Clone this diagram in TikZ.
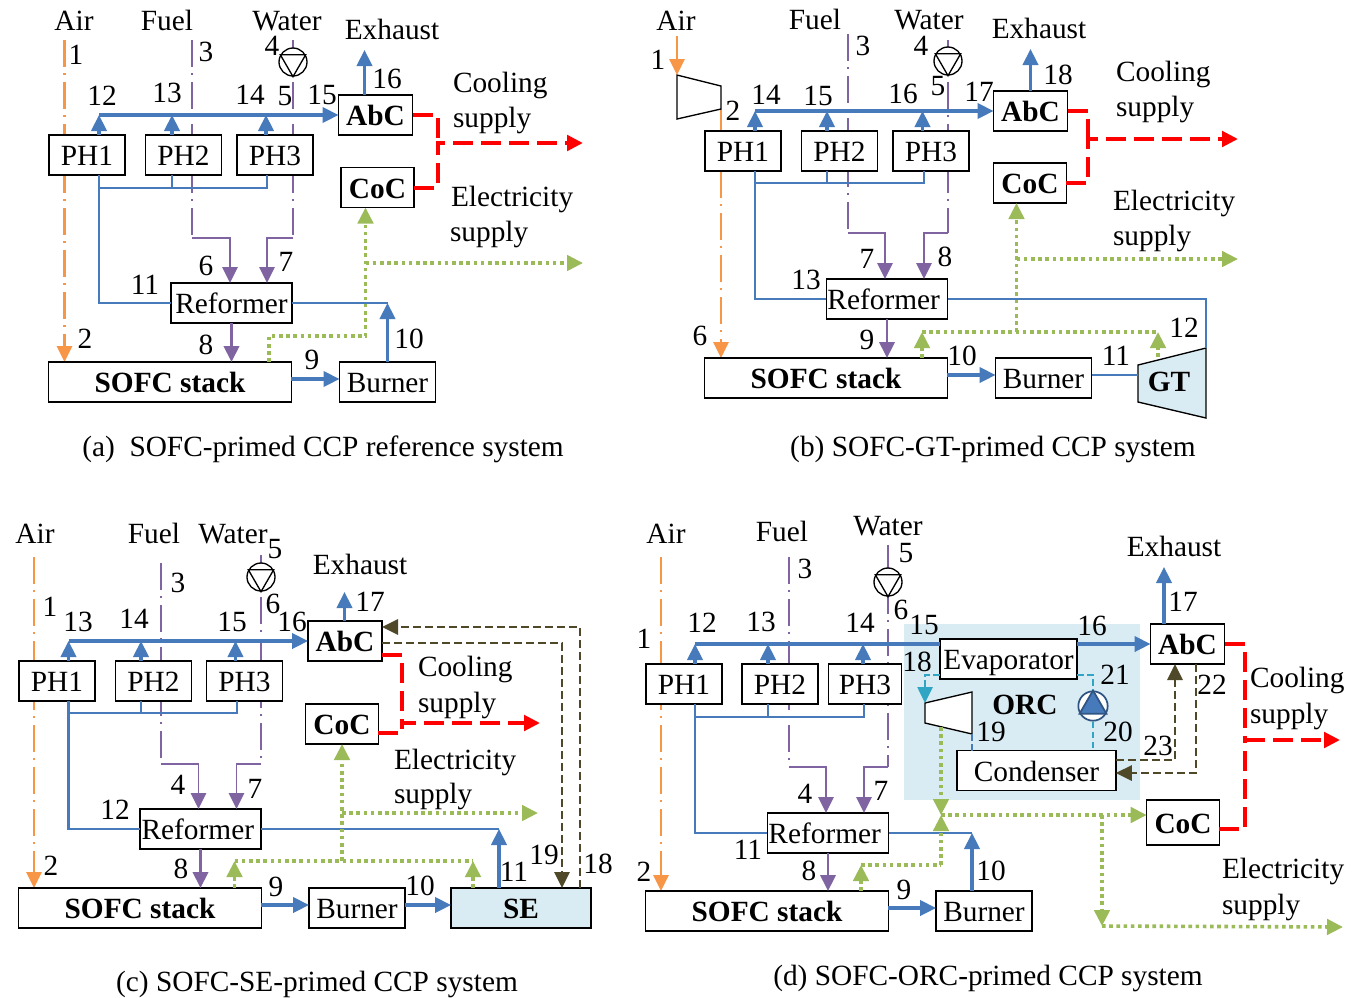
\documentclass[tikz,border=0pt]{standalone}
\usepackage{fontspec}
\setmainfont{Liberation Serif}
\usetikzlibrary{arrows.meta,backgrounds}
\definecolor{airc}{RGB}{247,150,70}
\definecolor{fuelc}{RGB}{128,100,162}
\definecolor{heatc}{RGB}{70,122,187}
\definecolor{elecc}{RGB}{155,187,89}
\definecolor{dumpc}{RGB}{79,73,41}
\definecolor{orcc}{RGB}{49,166,196}
\definecolor{shadec}{RGB}{218,236,243}
\tikzset{
plain/.style={font=\fontsize{22}{26}\selectfont},
bold/.style={font=\fontsize{22}{26}\selectfont\bfseries},
box/.style={draw, line width=1.1pt, fill=white, inner sep=0pt, outer sep=0pt, minimum height=30pt, text height=16pt, text depth=0pt},
phbox/.style={box, minimum width=57pt},
refbox/.style={box, minimum width=91pt},
sofcbox/.style={box, minimum width=182pt, bold},
burnbox/.style={box, minimum width=72pt},
abcbox/.style={box, minimum width=55.5pt, bold},
cocbox/.style={box, minimum width=54.5pt, bold},
txt/.style={inner sep=0pt, outer sep=0pt, text height=15.5pt, text depth=1pt},
ltxt/.style={txt, anchor=west},
pump/.style={draw, circle, line width=1pt, fill=white, inner sep=0pt, minimum size=21pt},
machine/.style={draw, line width=1pt},
tip/.style={-{Triangle[length=12pt,width=11.5pt]}},
airline/.style={color=airc, line width=1.7pt, dash pattern=on 20pt off 5pt on 1.5pt off 5pt},
airsolid/.style={color=airc, line width=1.7pt},
fuelline/.style={color=fuelc, line width=1.3pt, dash pattern=on 20pt off 5pt on 1.5pt off 5pt},
fuelsolid/.style={color=fuelc, line width=1.4pt},
heatline/.style={color=heatc, line width=1.5pt},
heatmain/.style={color=heatc, line width=2.3pt},
redline/.style={color=red, line width=3pt, dash pattern=on 15pt off 6pt},
elecline/.style={color=elecc, line width=2.7pt, dash pattern=on 2.7pt off 2.7pt},
dumpline/.style={color=dumpc, line width=1.4pt, dash pattern=on 6pt off 3pt},
orcline/.style={color=orcc, line width=1.1pt, dash pattern=on 5pt off 2.5pt},
}
\begin{document}
\begin{tikzpicture}[x=0.75pt, y=-0.75pt, plain]
\useasboundingbox (0,0) rectangle (1362,997);

% PANEL A
\node[phbox] (aph1) at (87,155) {PH1};
\node[phbox] (aph2) at (183.5,155) {PH2};
\node[phbox] (aph3) at (275,155) {PH3};
\node[abcbox] (aabc) at (375.5,115) {AbC};
\node[cocbox] (acoc) at (377.5,187.5) {CoC};
\node[refbox] (aref) at (231.5,303) {Reformer};
\node[sofcbox] (asofc) at (170,382) {SOFC stack};
\node[burnbox] (aburn) at (387.5,382) {Burner};
\node[pump] (apump) at (293,62) {};
\draw[machine] (apump.south) -- (apump.150) -- (apump.30) -- cycle;

\node[txt] (aair) at (74,21) {Air};
\node[txt] (afuel) at (167,21) {Fuel};
\node[txt] (awater) at (287,21) {Water};
\node[txt] (aexhaust) at (392,30) {Exhaust};
\node[ltxt] (acool) at (453,83) {Cooling};
\node[ltxt] (acools) at (453,118) {supply};
\node[ltxt] (aelec) at (451,197) {Electricity};
\node[ltxt] (aelecs) at (450,232) {supply};
\node[txt] (acap) at (323,447) {(a)\ \ SOFC-primed CCP reference system};

\node[txt] (an1) at (76,55) {1};
\node[txt] (an2) at (85,339) {2};
\node[txt] (an3) at (206,52) {3};
\node[txt] (an4) at (272,46) {4};
\node[txt] (an5) at (285,96) {5};
\node[txt] (an6) at (206,266) {6};
\node[txt] (an7) at (286,262) {7};
\node[txt] (an8) at (206,345) {8};
\node[txt] (an9) at (312,360) {9};
\node[txt] (an10) at (409,339) {10};
\node[txt] (an11) at (145,285) {11};
\node[txt] (an12) at (102,96) {12};
\node[txt] (an13) at (167,93) {13};
\node[txt] (an14) at (250,95) {14};
\node[txt] (an15) at (322,95) {15};
\node[txt] (an16) at (387,79) {16};

\coordinate (aairin) at (64.5,40);
\coordinate (afuelin) at (192,40);
\coordinate (afuelb) at (192,238);
\coordinate (afuelt) at (230,238);
\coordinate (awaterin) at (293,40);
\coordinate (awaterb) at (293,238);
\coordinate (awatert) at (267,238);
\begin{scope}[on background layer]
\draw[airline, tip] (aairin) -- (aairin |- asofc.north);
\draw[fuelline] (afuelin) -- (afuelb);
\draw[fuelline] (awaterin) -- (awaterb);
\end{scope}
\draw[fuelsolid, tip] (afuelb) -- (afuelt) -- (afuelt |- aref.north);
\draw[fuelsolid, tip] (awaterb) -- (awatert) -- (awatert |- aref.north);
\draw[fuelsolid, line width=2pt, tip] (aref.south) -- (aref.south |- asofc.north);

\coordinate (am1) at (99,115);
\coordinate (am2) at (172,115);
\coordinate (am3) at (266,115);
\coordinate (aexh) at (364.5,50);
\coordinate (al1) at (99,188);
\coordinate (al2) at (172,188);
\coordinate (al3) at (267,188);
\coordinate (arefr) at (aburn.north |- aref.east);
\draw[heatmain, tip] (am1) -- (aabc.west);
\draw[heatmain, tip] (am1 |- aph1.north) -- (am1);
\draw[heatmain, tip] (am2 |- aph2.north) -- (am2);
\draw[heatmain, tip] (am3 |- aph3.north) -- (am3);
\draw[heatmain, tip] (aexh |- aabc.north) -- (aexh);
\draw[heatline, line width=1.8pt] (al1 |- aph1.south) -- (al1 |- aref.west) -- (aref.west);
\draw[heatline] (al2 |- aph2.south) -- (al2);
\draw[heatline] (al1) -- (al3) -- (al3 |- aph3.south);
\draw[heatline] (aref.east) -- (arefr);
\draw[heatmain, tip] (aburn.north) -- (arefr);
\draw[heatmain, tip] ([yshift=2.25pt]asofc.east) -- ([yshift=2.25pt]aburn.west);

\coordinate (ared) at (437.5,143);
\coordinate (aredend) at (583,143);
\draw[redline] (aabc.east) -| (ared);
\draw[redline, tip] (acoc.east) -| (ared) -- (aredend);

\coordinate (ag1) at (269,336);
\coordinate (ag2) at (365.5,336);
\coordinate (ag3) at (365.5,263);
\coordinate (agend) at (583,263);
\draw[elecline, tip] (ag1 |- asofc.north) -- (ag1) -- (ag2) -- (ag2 |- acoc.south);
\draw[elecline, tip] (ag3) -- (agend);

% PANEL B
\node[phbox] (bph1) at (743,151) {PH1};
\node[phbox] (bph2) at (839.5,151) {PH2};
\node[phbox] (bph3) at (931,151) {PH3};
\node[abcbox] (babc) at (1030.5,111) {AbC};
\node[cocbox] (bcoc) at (1030,183) {CoC};
\node[refbox] (bref) at (887,299) {Reformer\kern5pt};
\node[sofcbox] (bsofc) at (826,378) {SOFC stack};
\node[burnbox] (bburn) at (1043.5,378) {Burner};
\node[pump] (bpump) at (948,61) {};
\draw[machine] (bpump.south) -- (bpump.150) -- (bpump.30) -- cycle;

\coordinate (bcomp1) at (677,75);
\coordinate (bcomp2) at (721,86);
\coordinate (bcomp3) at (721,109);
\coordinate (bcomp4) at (677,119);
\draw[machine] (bcomp1) -- (bcomp2) -- (bcomp3) -- (bcomp4) -- cycle;
\coordinate (bgt1) at (1138,365);
\coordinate (bgt2) at (1206,348);
\coordinate (bgt3) at (1206,418);
\coordinate (bgt4) at (1138,402);
\draw[machine, fill=shadec] (bgt1) -- (bgt2) -- (bgt3) -- (bgt4) -- cycle;
\node[txt, bold] (bgt) at (1169,382) {GT};

\node[txt] (bair) at (676,21) {Air};
\node[txt] (bfuel) at (815,20) {Fuel};
\node[txt] (bwater) at (929,20) {Water};
\node[txt] (bexhaust) at (1039,29) {Exhaust};
\node[ltxt] (bcool) at (1116,72) {Cooling};
\node[ltxt] (bcools) at (1116,107) {supply};
\node[ltxt] (belec) at (1113,201) {Electricity};
\node[ltxt] (belecs) at (1113,236) {supply};
\node[txt] (bcap) at (993,447) {(b) SOFC-GT-primed CCP system};

\node[txt] (bn1) at (658,60) {1};
\node[txt] (bn2) at (733,111) {2};
\node[txt] (bn3) at (863,46) {3};
\node[txt] (bn4) at (921,46) {4};
\node[txt] (bn5) at (938,86) {5};
\node[txt] (bn6) at (700,336) {6};
\node[txt] (bn7) at (867,259) {7};
\node[txt] (bn8) at (945,257) {8};
\node[txt] (bn9) at (867,340) {9};
\node[txt] (bn10) at (962,356) {10};
\node[txt] (bn11) at (1116,356) {11};
\node[txt] (bn12) at (1184,328) {12};
\node[txt] (bn13) at (806,280) {13};
\node[txt] (bn14) at (766,95) {14};
\node[txt] (bn15) at (818,96) {15};
\node[txt] (bn16) at (903,94) {16};
\node[txt] (bn17) at (979,92) {17};
\node[txt] (bn18) at (1058,75) {18};

\coordinate (bairin) at (677,36);
\coordinate (bfuelin) at (848,34);
\coordinate (bfuelb) at (848,233);
\coordinate (bfuelt) at (885,233);
\coordinate (bwaterin) at (948,40);
\coordinate (bwaterb) at (948,233);
\coordinate (bwatert) at (924,233);
\begin{scope}[on background layer]
\draw[airsolid] (bcomp3) -- (bcomp3 |- bph1.north);
\draw[airline, tip] (bcomp3 |- bph1.south) -- (bcomp3 |- bsofc.north);
\draw[fuelline] (bfuelin) -- (bfuelb);
\draw[fuelline] (bwaterin) -- (bwaterb);
\end{scope}
\draw[airsolid, tip] (bairin) -- (bcomp1);
\draw[fuelsolid, tip] (bfuelb) -- (bfuelt) -- (bfuelt |- bref.north);
\draw[fuelsolid, tip] (bwaterb) -- (bwatert) -- (bwatert |- bref.north);
\draw[fuelsolid, line width=2pt, tip] (bref.south) -- (bref.south |- bsofc.north);

\coordinate (bm1) at (755,111);
\coordinate (bm2) at (827,111);
\coordinate (bm3) at (922.5,111);
\coordinate (bexh) at (1030.5,49);
\coordinate (bl1) at (755,183);
\coordinate (bl2) at (827,183);
\coordinate (bl3) at (924,183);
\coordinate (bgtin) at (1138,375);
\draw[heatmain, tip] (bm1) -- (babc.west);
\draw[heatmain, tip] (bm1 |- bph1.north) -- (bm1);
\draw[heatmain, tip] (bm2 |- bph2.north) -- (bm2);
\draw[heatmain, tip] (bm3 |- bph3.north) -- (bm3);
\draw[heatmain, tip] (bexh |- babc.north) -- (bexh);
\draw[heatline, line width=1.8pt] (bl1 |- bph1.south) -- (bl1 |- bref.west) -- (bref.west);
\draw[heatline] (bl2 |- bph2.south) -- (bl2);
\draw[heatline] (bl1) -- (bl3) -- (bl3 |- bph3.south);
\draw[heatline] (bref.east) -- (bgt2 |- bref.east) -- (bgt2);
\draw[heatmain, tip] ([yshift=2.25pt]bsofc.east) -- ([yshift=2.25pt]bburn.west);
\draw[heatline] ([yshift=2.25pt]bburn.east) -- (bgtin);

\coordinate (bred) at (1088,139);
\coordinate (bredend) at (1238,139);
\draw[redline] (babc.east) -| (bred);
\draw[redline, tip] (bcoc.east) -| (bred) -- (bredend);

\coordinate (bg1) at (922,332);
\coordinate (bg2) at (1158,332);
\coordinate (bg3) at (1016.5,332);
\coordinate (bg4) at (1016.5,259);
\coordinate (bgend) at (1238,259);
\coordinate (bggt) at (1158,357);
\draw[elecline] (bg1) -- (bg2);
\draw[elecline, tip] (bg1 |- bsofc.north) -- (bg1);
\draw[elecline, tip] (bggt) -- (bg2);
\draw[elecline, tip] (bg3) -- (bg3 |- bcoc.south);
\draw[elecline, tip] (bg4) -- (bgend);

% PANEL C
\node[phbox] (cph1) at (57,681) {PH1};
\node[phbox] (cph2) at (153.5,681) {PH2};
\node[phbox] (cph3) at (244.5,681) {PH3};
\node[abcbox] (cabc) at (345,641) {AbC};
\node[cocbox] (ccoc) at (342,724) {CoC};
\node[refbox] (cref) at (200.5,829) {Reformer\kern4pt};
\node[sofcbox] (csofc) at (140,908) {SOFC stack};
\node[burnbox] (cburn) at (357,908) {Burner};
\node[box, fill=shadec, minimum width=105pt, bold] (cse) at (521,908) {SE};
\node[pump] (cpump) at (261,577) {};
\draw[machine] (cpump.south) -- (cpump.150) -- (cpump.30) -- cycle;

\node[txt] (cair) at (35,534) {Air};
\node[txt] (cfuel) at (154,534) {Fuel};
\node[txt] (cwater) at (233,534) {Water};
\node[txt] (cexhaust) at (360,565) {Exhaust};
\node[ltxt] (ccool) at (418,667) {Cooling};
\node[ltxt] (ccools) at (418,703) {supply};
\node[ltxt] (celec) at (394,760) {Electricity};
\node[ltxt] (celecs) at (394,794) {supply};
\node[txt] (ccap) at (317,982) {(c) SOFC-SE-primed CCP system};

\node[txt] (cn1) at (50,607) {1};
\node[txt] (cn2) at (51,866) {2};
\node[txt] (cn3) at (178,583) {3};
\node[txt] (cn4) at (178,785) {4};
\node[txt] (cn5) at (275,549) {5};
\node[txt] (cn6) at (273,604) {6};
\node[txt] (cn7) at (255,789) {7};
\node[txt] (cn8) at (181,869) {8};
\node[txt] (cn9) at (276,887) {9};
\node[txt] (cn10) at (420,886) {10};
\node[txt] (cn11) at (514,872) {11};
\node[txt] (cn12) at (115,810) {12};
\node[txt] (cn13) at (78,622) {13};
\node[txt] (cn14) at (134,619) {14};
\node[txt] (cn15) at (232,622) {15};
\node[txt] (cn16) at (292,622) {16};
\node[txt] (cn17) at (370,602) {17};
\node[txt] (cn18) at (598,864) {18};
\node[txt] (cn19) at (544,855) {19};

\coordinate (cairin) at (34,557);
\coordinate (cfuelin) at (161,563);
\coordinate (cfuelb) at (161,764);
\coordinate (cfuelt) at (198.5,764);
\coordinate (cwaterin) at (261,555);
\coordinate (cwaterb) at (261,764);
\coordinate (cwatert) at (236.5,764);
\begin{scope}[on background layer]
\draw[airline, tip] (cairin) -- (cairin |- csofc.north);
\draw[fuelline] (cfuelin) -- (cfuelb);
\draw[fuelline] (cwaterin) -- (cwaterb);
\end{scope}
\draw[fuelsolid, tip] (cfuelb) -- (cfuelt) -- (cfuelt |- cref.north);
\draw[fuelsolid, tip] (cwaterb) -- (cwatert) -- (cwatert |- cref.north);
\draw[fuelsolid, line width=2pt, tip] (cref.south) -- (cref.south |- csofc.north);

\coordinate (cm1) at (68.5,641);
\coordinate (cm2) at (141,641);
\coordinate (cm3) at (235.5,641);
\coordinate (cexh) at (344.5,592);
\coordinate (cl1) at (68.5,713);
\coordinate (cl2) at (141,713);
\coordinate (cl3) at (237,713);
\coordinate (cser) at (499,829);
\draw[heatmain, tip] (cm1) -- (cabc.west);
\draw[heatmain, tip] (cm1 |- cph1.north) -- (cm1);
\draw[heatmain, tip] (cm2 |- cph2.north) -- (cm2);
\draw[heatmain, tip] (cm3 |- cph3.north) -- (cm3);
\draw[heatmain, tip] (cexh |- cabc.north) -- (cexh);
\draw[heatline, line width=1.8pt] (cl1 |- cph1.south) -- (cl1 |- cref.west) -- (cref.west);
\draw[heatline] (cl2 |- cph2.south) -- (cl2);
\draw[heatline] (cl1) -- (cl3) -- (cl3 |- cph3.south);
\draw[heatline] (cref.east) -- (cser);
\draw[heatmain, tip] (cser |- cse.north) -- (cser);
\draw[heatmain, tip] ([yshift=2.25pt]csofc.east) -- ([yshift=2.25pt]cburn.west);
\draw[heatmain, tip] ([yshift=2.25pt]cburn.east) -- ([yshift=2.25pt]cse.west);

\coordinate (cd1) at (580,627);
\coordinate (cd2) at (562,643);
\draw[dumpline, tip] (cd1 |- cse.north) -- (cd1) -- (cabc.east |- cd1);
\draw[dumpline, tip] (cabc.east |- cd2) -- (cd2) -- (cd2 |- cse.north);

\coordinate (cred1) at (402,655);
\coordinate (cred2) at (402,723);
\coordinate (cred3) at (402,733);
\coordinate (credend) at (540,723);
\draw[redline] (cabc.east |- cred1) -- (cred1) -- (cred2);
\draw[redline, tip] (ccoc.east |- cred3) -- (cred3) -- (cred2) -- (credend);

\coordinate (cg1) at (234.5,861);
\coordinate (cg2) at (473,861);
\coordinate (cg3) at (342,861);
\coordinate (cg4) at (342,813);
\coordinate (cgend) at (538,813);
\draw[elecline] (cg1) -- (cg2);
\draw[elecline, tip] (cg1 |- csofc.north) -- (cg1);
\draw[elecline, tip] (cg2 |- cse.north) -- (cg2);
\draw[elecline, tip] (cg3) -- (cg3 |- ccoc.south);
\draw[elecline, tip] (cg4) -- (cgend);

% PANEL D
\node[fill=shadec, inner sep=0pt, minimum width=177pt, minimum height=132pt] (dorcbg) at (1022,712) {};
\node[phbox] (dph1) at (684,684) {PH1};
\node[phbox] (dph2) at (780,684) {PH2};
\node[phbox, minimum width=54.75pt] (dph3) at (865,684) {PH3};
\node[box, minimum width=103pt] (devap) at (1008.5,659) {Evaporator};
\node[abcbox] (dabc) at (1187.5,644) {AbC};
\node[cocbox, minimum height=34pt] (dcoc) at (1183,822.5) {CoC};
\node[box, minimum width=119pt] (dcond) at (1036.5,770.5) {Condenser};
\node[refbox] (dref) at (828,833) {Reformer\kern5pt};
\node[sofcbox] (dsofc) at (767,911) {SOFC stack};
\node[burnbox] (dburn) at (984,911) {Burner};
\node[pump] (dpump) at (888,582) {};
\draw[machine] (dpump.south) -- (dpump.150) -- (dpump.30) -- cycle;
\node[pump, draw=heatc!70!black, line width=1.3pt, minimum size=22pt] (dpump2) at (1093,706) {};
\draw[machine, draw=heatc!70!black, fill=heatc, line width=1.3pt] (dpump2.north) -- (dpump2.210) -- (dpump2.330) -- cycle;

\coordinate (dt1) at (925,703);
\coordinate (dt2) at (972,692);
\coordinate (dt3) at (972,734);
\coordinate (dt4) at (925,723);
\draw[machine, fill=white] (dt1) -- (dt2) -- (dt3) -- (dt4) -- cycle;

\node[txt] (dair) at (666,534) {Air};
\node[txt] (dfuel) at (782,532) {Fuel};
\node[txt] (dwater) at (888,526) {Water};
\node[txt] (dexhaust) at (1174,547) {Exhaust};
\node[txt, bold] (dorc) at (1025,705) {ORC};
\node[ltxt] (dcool) at (1250,678) {Cooling};
\node[ltxt] (dcools) at (1250,714) {supply};
\node[ltxt] (delec) at (1222,869) {Electricity};
\node[ltxt] (delecs) at (1222,905) {supply};
\node[txt] (dcap) at (988,976) {(d) SOFC-ORC-primed CCP system};

\node[txt] (dn1) at (644,639) {1};
\node[txt] (dn2) at (644,872) {2};
\node[txt] (dn3) at (805,569) {3};
\node[txt] (dn4) at (805,794) {4};
\node[txt] (dn5) at (906,553) {5};
\node[txt] (dn6) at (901,610) {6};
\node[txt] (dn7) at (881,791) {7};
\node[txt] (dn8) at (809,871) {8};
\node[txt] (dn9) at (904,890) {9};
\node[txt] (dn10) at (991,871) {10};
\node[txt] (dn11) at (748,850) {11};
\node[txt] (dn12) at (702,623) {12};
\node[txt] (dn13) at (761,622) {13};
\node[txt] (dn14) at (860,623) {14};
\node[txt] (dn15) at (924,625) {15};
\node[txt] (dn16) at (1092,626) {16};
\node[txt] (dn17) at (1183,602) {17};
\node[txt] (dn18) at (917,662) {18};
\node[txt] (dn19) at (991,732) {19};
\node[txt] (dn20) at (1118,732) {20};
\node[txt] (dn21) at (1115,675) {21};
\node[txt] (dn22) at (1212,685) {22};
\node[txt] (dn23) at (1158,746) {23};

\coordinate (dairin) at (661,557);
\coordinate (dfuelin) at (789,557);
\coordinate (dfuelb) at (789,767);
\coordinate (dfuelt) at (826,767);
\coordinate (dwaterin) at (888,545);
\coordinate (dwaterb) at (888,767);
\coordinate (dwatert) at (864,767);
\begin{scope}[on background layer]
\draw[airline, tip] (dairin) -- (dairin |- dsofc.north);
\draw[fuelline] (dfuelin) -- (dfuelb);
\draw[fuelline] (dwaterin) -- (dwaterb);
\end{scope}
\draw[fuelsolid, tip] (dfuelb) -- (dfuelt) -- (dfuelt |- dref.north);
\draw[fuelsolid, tip] (dwaterb) -- (dwatert) -- (dwatert |- dref.north);
\draw[fuelsolid, line width=2pt, tip] (dref.south) -- (dref.south |- dsofc.north);

\coordinate (dm1) at (695,644);
\coordinate (dm2) at (768,644);
\coordinate (dm3) at (863,644);
\coordinate (dexh) at (1164,567);
\coordinate (dl1) at (695,717);
\coordinate (dl2) at (768,717);
\coordinate (dl3) at (864,717);
\coordinate (dburnr) at (972,833);
\draw[heatmain] (dm1) -- (devap.west |- dm1);
\draw[heatmain, tip] (dm1 |- dph1.north) -- (dm1);
\draw[heatmain, tip] (dm2 |- dph2.north) -- (dm2);
\draw[heatmain, tip] (dm3 |- dph3.north) -- (dm3);
\draw[heatmain, tip] (devap.east |- dabc.west) -- (dabc.west);
\draw[heatmain, tip] (dexh |- dabc.north) -- (dexh);
\draw[heatline, line width=1.8pt] (dl1 |- dph1.south) -- (dl1 |- dref.west) -- (dref.west);
\draw[heatline] (dl2 |- dph2.south) -- (dl2);
\draw[heatline] (dl1) -- (dl3) -- (dl3 |- dph3.south);
\draw[heatline] (dref.east) -- (dburnr);
\draw[heatmain, tip] (dburnr |- dburn.north) -- (dburnr);
\draw[heatmain, tip] ([yshift=2.25pt]dsofc.east) -- ([yshift=2.25pt]dburn.west);

\coordinate (dc1) at (925,675);
\coordinate (dc2) at (1093,675);
\draw[orcline, tip] (devap.west |- dc1) -- (dc1) -- (dt1);
\draw[orcline] (devap.east |- dc2) -- (dc2) -- (dpump2.north);
\draw[orcline] (dpump2.south) -- (dpump2.south |- dcond.north);
\draw[orcline, color=heatc] (dt3) -- (dt3 |- dcond.north);

\coordinate (dd1) at (1175,760);
\coordinate (dd2) at (1196,773);
\draw[dumpline, tip] (dcond.east |- dd1) -- (dd1) -- (dd1 |- dabc.south);
\draw[dumpline, tip] (dd2 |- dabc.south) -- (dd2) -- (dcond.east |- dd2);

\coordinate (dred1) at (1245,740);
\coordinate (dred2) at (1245,829);
\coordinate (dredend) at (1340,740);
\draw[redline] (dabc.east) -| (dred1);
\draw[redline] (dcoc.east |- dred2) -- (dred2) -- (dred1);
\draw[redline, tip] (dred1) -- (dredend);

\coordinate (dg0) at (941,727);
\coordinate (dgm) at (941,815);
\coordinate (dg1) at (941,865);
\coordinate (dg2) at (861,865);
\coordinate (dg3) at (1102,815);
\coordinate (dg4) at (1102,926);
\coordinate (dgend) at (1343,927);
\draw[elecline, tip] (dg0) -- (dgm);
\draw[elecline, tip] (dg1) -- (dgm);
\draw[elecline] (dg2) -- (dg1);
\draw[elecline, tip] (dg2 |- dsofc.north) -- (dg2);
\draw[elecline, tip] (dgm) -- (dcoc.west |- dgm);
\draw[elecline, tip] (dg3) -- (dg4);
\draw[elecline, tip] (dg4) -- (dgend);
\end{tikzpicture}
\end{document}
